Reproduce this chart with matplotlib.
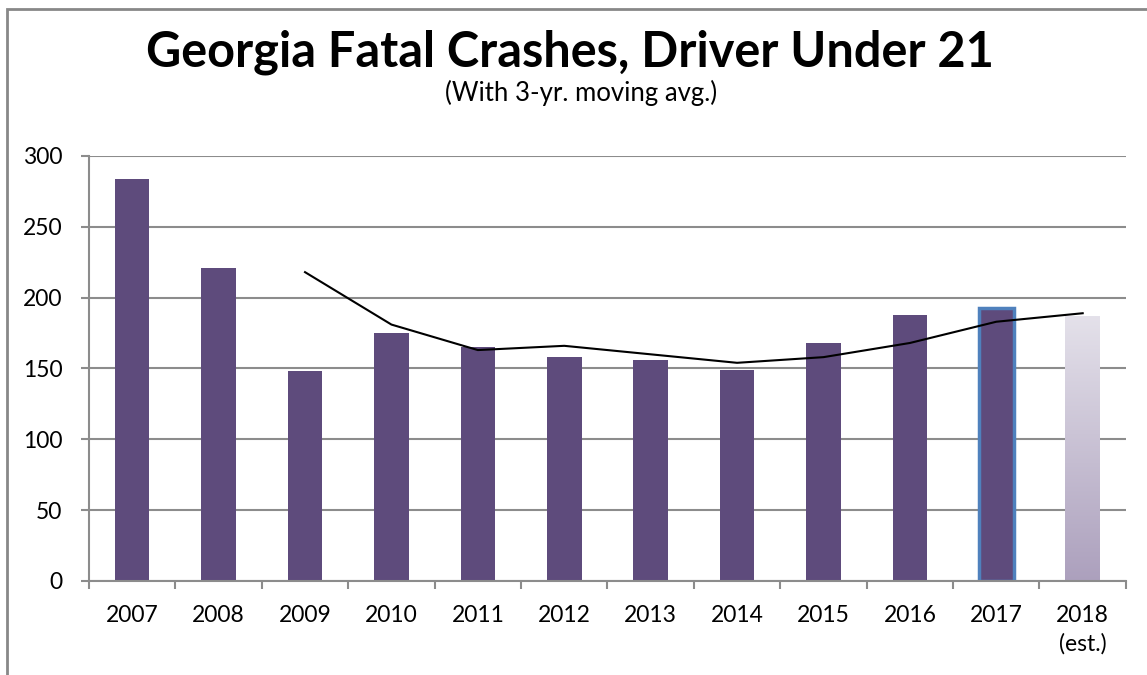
import numpy as np
import matplotlib.pyplot as plt
from matplotlib.colors import LinearSegmentedColormap
from matplotlib.patches import Rectangle

years = ['2007', '2008', '2009', '2010', '2011', '2012', '2013', '2014',
         '2015', '2016', '2017', '2018\n(est.)']
crashes = [284, 221, 148, 175, 165, 158, 156, 149, 168, 188, 193, 187]
# 3-yr moving average, starts at 2009
moving_avg = [218, 181, 163, 166, 160, 154, 158, 168, 183, 189]

plt.rcParams['font.family'] = ['Lato', 'DejaVu Sans']

fig = plt.figure(figsize=(11.47, 6.75), dpi=100)
ax = fig.add_axes([0.0776, 0.1393, 0.904, 0.6296])

purple = '#5E4B7C'
grid = '#8C8C8C'
x = np.arange(len(years))

bars = ax.bar(x[:-1], crashes[:-1], width=0.4, color=purple, zorder=2)
bars[-1].set_edgecolor('#4F81BD')
bars[-1].set_linewidth(2.5)

# 2018 estimate: gradient bar
est = ax.bar(x[-1], crashes[-1], width=0.4, facecolor='none', edgecolor='none', zorder=2)[0]
cmap = LinearSegmentedColormap.from_list('est', ['#ACA0BD', '#E4E1EA'])
grad = np.linspace(0, 1, 256).reshape(-1, 1)
img = ax.imshow(grad, cmap=cmap, origin='lower', aspect='auto', zorder=2,
                extent=[x[-1] - 0.2, x[-1] + 0.2, 0, crashes[-1]])
img.set_clip_path(est)

ax.plot(x[2:], moving_avg, color='black', linewidth=1.5, zorder=3)

ax.set_xlim(-0.5, len(years) - 0.5)
ax.set_ylim(0, 300)
ax.set_yticks(range(0, 301, 50))
ax.yaxis.grid(True, color=grid, linewidth=1.5, zorder=0)
ax.set_axisbelow(True)

ax.set_xticks(x)
ax.set_xticklabels(years, fontsize=16.5, linespacing=1.45, va='top')
ax.set_xticks(np.arange(-0.5, len(years)), minor=True)
ax.tick_params(axis='x', which='major', length=0, pad=17)
ax.tick_params(axis='x', which='minor', length=6, color=grid, width=1.5)
ax.tick_params(axis='y', length=6, color=grid, width=1.5, labelsize=16.5, pad=13)

for s in ['top', 'right']:
    ax.spines[s].set_visible(False)
for s in ['left', 'bottom']:
    ax.spines[s].set_color(grid)
    ax.spines[s].set_linewidth(1.5)

fig.text(0.497, 0.923, 'Georgia Fatal Crashes, Driver Under 21', ha='center', va='center',
         fontsize=35, fontweight='bold')
fig.text(0.507, 0.862, '(With 3-yr. moving avg.)', ha='center', va='center', fontsize=18.5)

# outer chart border (top and left edges visible)
fig.patches.append(Rectangle((7 / 1147, -0.1), 1.2, 1 - 8.5 / 675 + 0.1,
                             transform=fig.transFigure, fill=False,
                             edgecolor='#888888', linewidth=2))

fig.savefig('out.png', dpi=100)
